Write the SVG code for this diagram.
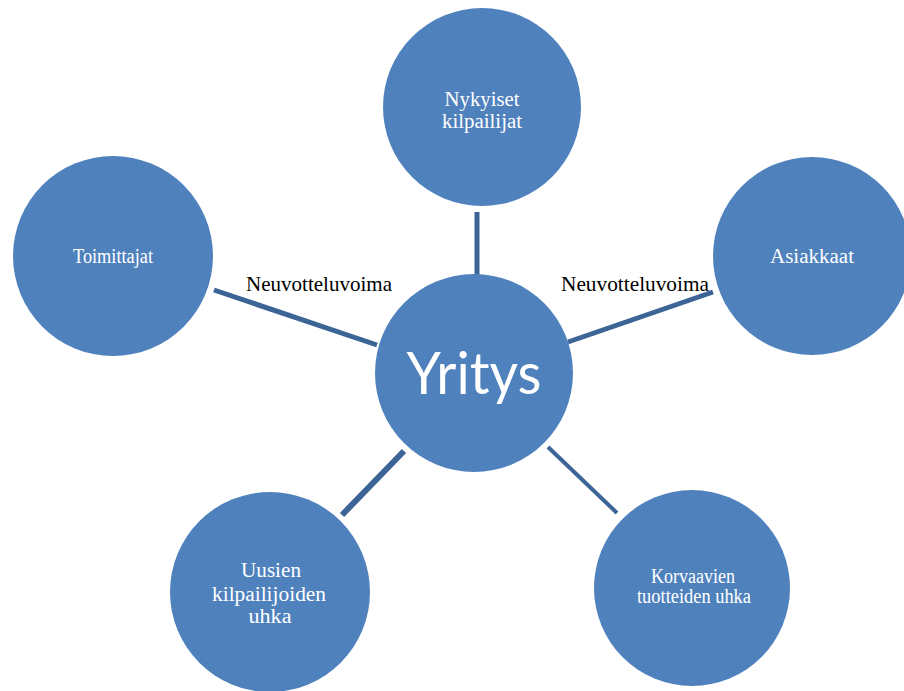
<svg xmlns="http://www.w3.org/2000/svg" width="904" height="691" viewBox="0 0 904 691">
<style>
.node{fill:#4f81bd}
.nt{fill:#ffffff;font-family:"Liberation Serif","Times New Roman",serif;font-size:20px;text-anchor:middle}
.lbl{fill:#000000;font-family:"Liberation Serif","Times New Roman",serif;font-size:21px}
.conn{stroke:#3c6496;stroke-linecap:butt;fill:none}
</style>
<rect width="904" height="691" fill="#ffffff"/>
<g id="connectors">
<line class="conn" x1="477" y1="212" x2="477" y2="275" stroke-width="5"/>
<line class="conn" x1="214" y1="290" x2="377" y2="345" stroke-width="5"/>
<line class="conn" x1="568" y1="342" x2="713" y2="292" stroke-width="5"/>
<line class="conn" x1="404" y1="451" x2="342" y2="515" stroke-width="6"/>
<line class="conn" x1="548" y1="447" x2="617" y2="513" stroke-width="4"/>
</g>
<g id="labels">
<text class="lbl" x="246" y="291" textLength="146" lengthAdjust="spacingAndGlyphs">Neuvotteluvoima</text>
<text class="lbl" x="561" y="291" textLength="148" lengthAdjust="spacingAndGlyphs">Neuvotteluvoima</text>
</g>
<g id="node-nykyiset">
<circle class="node" cx="482" cy="107" r="99"/>
<text class="nt" x="482" y="106" font-size="21" textLength="75" lengthAdjust="spacingAndGlyphs">Nykyiset</text>
<text class="nt" x="482" y="128" font-size="21" textLength="80" lengthAdjust="spacingAndGlyphs">kilpailijat</text>
</g>
<g id="node-toimittajat">
<circle class="node" cx="113" cy="256" r="100"/>
<text class="nt" x="113" y="263" textLength="80" lengthAdjust="spacingAndGlyphs">Toimittajat</text>
</g>
<g id="node-asiakkaat">
<circle class="node" cx="812" cy="256" r="99"/>
<text class="nt" x="812" y="263" textLength="84" lengthAdjust="spacingAndGlyphs">Asiakkaat</text>
</g>
<g id="node-yritys">
<circle class="node" cx="474" cy="373" r="99"/>
<text x="474" y="394" fill="#ffffff" font-family="Lato,'Open Sans',sans-serif" font-size="58" text-anchor="middle" textLength="135" lengthAdjust="spacingAndGlyphs">Yritys</text>
</g>
<g id="node-uusien">
<circle class="node" cx="270" cy="592" r="100"/>
<text class="nt" x="271" y="577" font-size="21" textLength="60" lengthAdjust="spacingAndGlyphs">Uusien</text>
<text class="nt" x="269" y="601" font-size="21" textLength="114" lengthAdjust="spacingAndGlyphs">kilpailijoiden</text>
<text class="nt" x="270" y="623" font-size="21" textLength="43" lengthAdjust="spacingAndGlyphs">uhka</text>
</g>
<g id="node-korvaavien">
<circle class="node" cx="692" cy="588" r="98"/>
<text class="nt" x="693" y="583" font-size="18" textLength="84" lengthAdjust="spacingAndGlyphs">Korvaavien</text>
<text class="nt" x="694" y="603" font-size="18" textLength="114" lengthAdjust="spacingAndGlyphs">tuotteiden uhka</text>
</g>
</svg>
